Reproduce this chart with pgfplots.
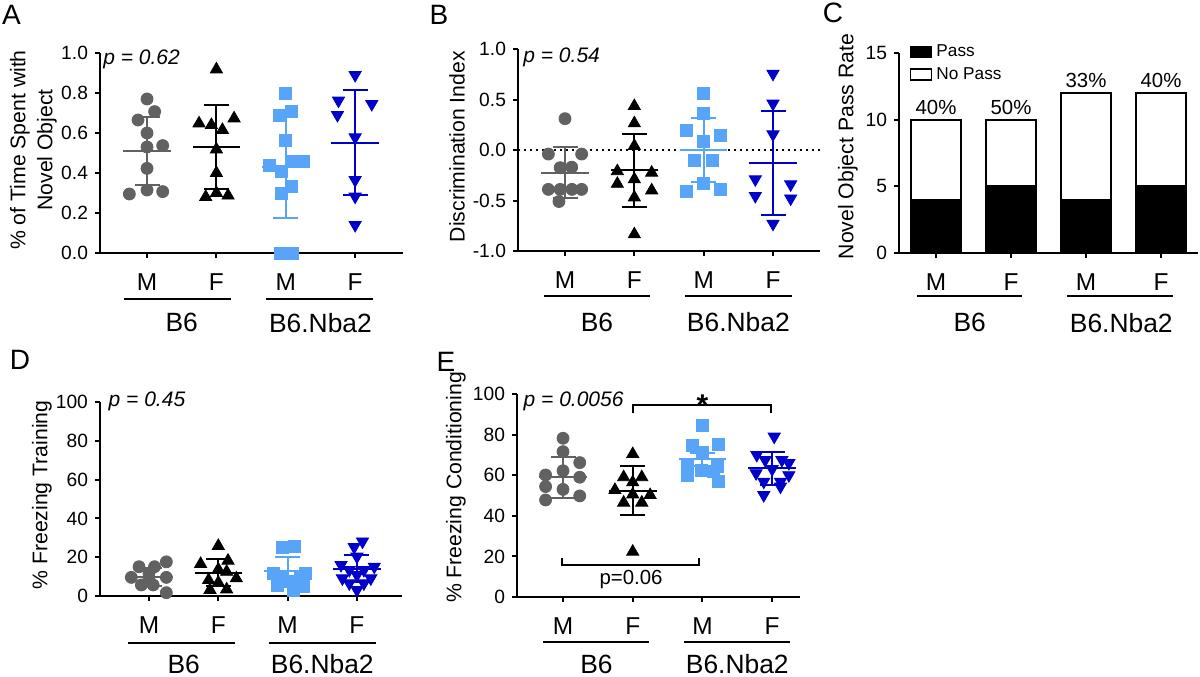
\documentclass[border=0pt]{standalone}
\usepackage{fontspec}
\setmainfont{Liberation Sans}
\usepackage{pgfplots}
\pgfplotsset{compat=1.18}
\definecolor{gpgray}{RGB}{97,97,97}
\definecolor{lblue}{RGB}{88,164,248}
\definecolor{dblue}{RGB}{0,0,200}
\newcommand{\axlab}{\fontsize{10.6}{13.5}\selectfont}
\newcommand{\grplab}{\fontsize{13.2}{15}\selectfont}
\newcommand{\pval}{\fontsize{10.5}{12}\selectfont\itshape}
\tikzset{grp/.style={font=\grplab, inner sep=0pt}}
\pgfplotsset{
 gp/.style={
  scale only axis, anchor=south west,
  axis x line=bottom, axis y line=left,
  axis line style={line width=1pt, -},
  every tick/.style={line width=1pt, black},
  tick align=outside, major tick length=2.5pt,
  xtick={0,1,2,3}, xticklabels={M,F,M,F},
  xticklabel style={font=\fontsize{12.2}{14}\selectfont, anchor=base, yshift=-16pt},
  yticklabel style={font=\fontsize{9.6}{11}\selectfont},
  clip=false,
 },
 circ/.style={only marks, mark=*, mark size=3pt, color=#1, mark options={solid, fill=#1, draw=#1, line width=0.4pt}},
 tri/.style={only marks, mark=triangle*, mark size=3.5pt, color=#1, mark options={solid, fill=#1, draw=#1, line width=0.4pt}},
 itri/.style={only marks, mark=triangle*, mark size=3.5pt, color=#1, mark options={solid, rotate=180, fill=#1, draw=#1, line width=0.4pt}},
 sq/.style={only marks, mark=square*, mark size=3pt, color=#1, mark options={solid, fill=#1, draw=#1, line width=0.4pt}},
 mstyle/.style={only marks, color=#1, mark=-, mark size=11.9pt, mark options={line width=1pt, solid},
  error bars/y dir=both, error bars/y explicit,
  error bars/error bar style={line width=1pt, solid, color=#1},
  error bars/error mark options={line width=1pt, mark size=6.25pt, rotate=90, color=#1}},
}
\begin{document}
\begin{tikzpicture}
\path[use as bounding box] (0,0) rectangle (600pt,338pt);

% ---------------- Panel A
\begin{axis}[gp, at={(50pt,211.5pt)}, width=151.5pt, height=100pt,
  xmin=-0.678, xmax=3.69, ymin=0, ymax=1,
  ytick={0,0.2,0.4,0.6,0.8,1.0}, yticklabels={0.0,0.2,0.4,0.6,0.8,1.0}]
\addplot[circ=gpgray] coordinates {(0,0.77) (0.11,0.707) (-0.13,0.665) (0,0.60) (0,0.53) (0.226,0.537) (0,0.423) (-0.255,0.295) (0,0.315) (0.226,0.307)};
\addplot[tri=black] coordinates {(1,0.918) (0.75,0.648) (0.928,0.64) (1.087,0.615) (1.255,0.673) (1,0.518) (1,0.40) (0.846,0.28) (1,0.30) (1.168,0.287)};
\addplot[sq=lblue] coordinates {(2,0.798) (2.082,0.707) (1.913,0.69) (2,0.562) (1.76,0.44) (1.937,0.41) (2.096,0.457) (2.25,0.457) (2.08,0.335) (1.93,0.298) (1.923,0.0) (2.096,0.0)};
\addplot[itri=dblue] coordinates {(3,0.89) (2.76,0.762) (3.24,0.745) (2.745,0.69) (3,0.578) (3,0.365) (3,0.282) (3,0.14)};
\addplot[mstyle=gpgray] coordinates {(0,0.51) +- (0,0.17)};
\addplot[mstyle=black] coordinates {(1,0.53) +- (0,0.21)};
\addplot[mstyle=lblue] coordinates {(2,0.43) +- (0,0.255)};
\addplot[mstyle=dblue] coordinates {(3,0.552) +- (0,0.264)};
\node[font=\pval, anchor=base west, inner sep=0pt] at (axis cs:-0.635,0.94) {p = 0.62};
\draw[line width=1pt] ([yshift=-23pt]axis cs:-0.33,0) -- ([yshift=-23pt]axis cs:1.21,0);
\draw[line width=1pt] ([yshift=-23pt]axis cs:1.71,0) -- ([yshift=-23pt]axis cs:3.26,0);
\node[grp] at ([yshift=-34.8pt]axis cs:0.5,0) {B6};
\node[grp] at ([yshift=-34.8pt]axis cs:2.5,0) {B6.Nba2};
\end{axis}

% ---------------- Panel B
\begin{axis}[gp, at={(259pt,212.5pt)}, width=151pt, height=101pt,
  xmin=-0.678, xmax=3.678, ymin=-1, ymax=1,
  ytick={-1,-0.5,0,0.5,1}, yticklabels={-1.0,-0.5,0.0,0.5,1.0}]
\draw[line width=1pt, dash pattern=on 1pt off 2pt] (axis cs:-0.678,0) -- (axis cs:3.678,0);
\addplot[circ=gpgray] coordinates {(0,0.31) (-0.24,-0.04) (0.24,-0.04) (-0.07,-0.175) (0.096,-0.17) (-0.24,-0.39) (-0.07,-0.39) (0.1,-0.39) (0.24,-0.39) (-0.087,-0.51)};
\addplot[tri=black] coordinates {(1,0.435) (1,0.264) (1,0.04) (0.755,-0.21) (1.25,-0.225) (0.755,-0.335) (1.25,-0.40) (1,-0.29) (1,-0.47) (1,-0.835)};
\addplot[sq=lblue] coordinates {(2,0.558) (2,0.36) (1.75,0.195) (2.24,0.14) (2,0.09) (1.87,-0.10) (2.125,-0.10) (2,-0.333) (1.75,-0.406) (2.24,-0.39)};
\addplot[itri=dblue] coordinates {(3,0.755) (3,0.46) (3,0.155) (2.745,-0.29) (2.745,-0.455) (3.255,-0.34) (3.255,-0.48) (3,-0.73)};
\addplot[mstyle=gpgray] coordinates {(0,-0.224) +- (0,0.25)};
\addplot[mstyle=black] coordinates {(1,-0.20) +- (0,0.363)};
\addplot[mstyle=lblue] coordinates {(2,0.0) +- (0,0.32)};
\addplot[mstyle=dblue] coordinates {(3,-0.125) +- (0,0.515)};
\node[font=\pval, anchor=base west, inner sep=0pt] at (axis cs:-0.606,0.864) {p = 0.54};
\draw[line width=1pt] ([yshift=-22.5pt]axis cs:-0.30,-1) -- ([yshift=-22.5pt]axis cs:1.23,-1);
\draw[line width=1pt] ([yshift=-22.5pt]axis cs:1.73,-1) -- ([yshift=-22.5pt]axis cs:3.27,-1);
\node[grp] at ([yshift=-35.5pt]axis cs:0.46,-1) {B6};
\node[grp] at ([yshift=-35.5pt]axis cs:2.5,-1) {B6.Nba2};
\end{axis}

% ---------------- Panel C
\begin{axis}[gp, at={(449.5pt,211.5pt)}, width=149.5pt, height=100pt,
  xmin=-0.493, xmax=3.493, ymin=0, ymax=15,
  ytick={0,5,10,15}, yticklabels={0,5,10,15},
  ybar stacked, bar width=25pt,
  legend style={at={(0.035,1.065)}, anchor=north west, draw=none, fill=none,
    font=\fontsize{8.6}{10}\selectfont, row sep=0pt, inner sep=0pt,
    /tikz/every even column/.append style={column sep=8pt}},
  legend cell align=left]
\addplot[fill=black, draw=black, line width=1pt,
  legend image code/.code={\draw[fill=black, draw=black, line width=0.8pt] (0pt,-2.75pt) rectangle (10.5pt,2.75pt);}]
  coordinates {(0,4) (1,5) (2,4) (3,5)};
\addlegendentry{Pass}
\addplot[fill=white, draw=black, line width=1pt,
  legend image code/.code={\draw[fill=white, draw=black, line width=0.8pt] (0pt,-2.75pt) rectangle (10.5pt,2.75pt);}]
  coordinates {(0,6) (1,5) (2,8) (3,7)};
\addlegendentry{No Pass}
\node[font=\fontsize{10.2}{12}\selectfont] at (axis cs:0,10.9) {40\%};
\node[font=\fontsize{10.2}{12}\selectfont] at (axis cs:1,10.9) {50\%};
\node[font=\fontsize{10.2}{12}\selectfont] at (axis cs:2,12.95) {33\%};
\node[font=\fontsize{10.2}{12}\selectfont] at (axis cs:3,12.95) {40\%};
\draw[line width=1pt] ([yshift=-21.5pt]axis cs:-0.25,0) -- ([yshift=-21.5pt]axis cs:1.15,0);
\draw[line width=1pt] ([yshift=-21.5pt]axis cs:1.75,0) -- ([yshift=-21.5pt]axis cs:3.16,0);
\node[grp] at ([yshift=-34.8pt]axis cs:0.45,0) {B6};
\node[grp] at ([yshift=-34.8pt]axis cs:2.47,0) {B6.Nba2};
\end{axis}

% ---------------- Panel D
\begin{axis}[gp, at={(50pt,40pt)}, width=151pt, height=97pt,
  xmin=-0.707, xmax=3.65, ymin=0, ymax=100,
  ytick={0,20,40,60,80,100}, yticklabels={0,20,40,60,80,100}]
\addplot[circ=gpgray] coordinates {(-0.144,15.1) (0.25,17.6) (0.08,15.1) (-0.255,9.6) (0,11.7) (0.25,9.6) (-0.11,5.7) (0.06,5.7) (0.25,1.7) (0,8.3)};
\addplot[tri=black] coordinates {(1,25.8) (0.745,16.5) (1.14,18.2) (1,13.7) (1.12,12.5) (1.26,9.1) (0.86,8.2) (1,6.9) (0.88,3.1) (1.12,3.4)};
\addplot[sq=lblue] coordinates {(1.93,25.0) (2.1,25.8) (1.8,11.7) (2.25,11.7) (1.92,9.1) (2.18,9.9) (1.85,5.7) (2.23,4.8) (2.09,3.1) (2,7.4)};
\addplot[itri=dblue] coordinates {(3.08,28.1) (2.96,25.3) (3,20.3) (2.77,16.0) (3.25,15.1) (2.89,13.4) (3.1,13.4) (2.79,9.1) (3.2,9.1) (3,10.8) (2.89,6.5) (3.1,6.5) (3,3.1)};
\addplot[mstyle=gpgray] coordinates {(0,9.6) +- (0,4.7)};
\addplot[mstyle=black] coordinates {(1,12) +- (0,7)};
\addplot[mstyle=lblue] coordinates {(2,13) +- (0,7)};
\addplot[mstyle=dblue] coordinates {(3,14) +- (0,7)};
\node[font=\pval, anchor=base west, inner sep=0pt] at (axis cs:-0.587,97.6) {p = 0.45};
\draw[line width=1pt] ([yshift=-23.5pt]axis cs:-0.30,0) -- ([yshift=-23.5pt]axis cs:1.24,0);
\draw[line width=1pt] ([yshift=-23.5pt]axis cs:1.73,0) -- ([yshift=-23.5pt]axis cs:3.28,0);
\node[grp] at ([yshift=-34pt]axis cs:0.5,0) {B6};
\node[grp] at ([yshift=-34pt]axis cs:2.5,0) {B6.Nba2};
\end{axis}

% ---------------- Panel E
\begin{axis}[gp, at={(258.5pt,39.5pt)}, width=141.5pt, height=101.5pt,
  xmin=-0.66, xmax=3.40, ymin=0, ymax=100,
  ytick={0,20,40,60,80,100}, yticklabels={0,20,40,60,80,100}]
\addplot[circ=gpgray] coordinates {(0,78.2) (0,71.6) (0.24,66.2) (-0.25,60.1) (0,62.2) (0.24,59.0) (-0.25,54.4) (0,53.0) (-0.25,47.8) (0.24,49.8)};
\addplot[tri=black] coordinates {(1,70.4) (0.87,59) (1.13,59) (1,56.5) (0.745,52.7) (1.25,50.2) (1,50.5) (0.87,46.5) (1.13,46.5) (1,22.3)};
\addplot[sq=lblue] coordinates {(2,84.7) (1.85,74.9) (2.23,75.4) (2,71) (1.78,65) (2.22,64.2) (1.78,60) (1.98,62.6) (2.16,61.7) (2.23,56.8)};
\addplot[itri=dblue] coordinates {(3.03,79) (2.78,70) (2.9,67.5) (3.14,67.5) (3.24,66) (3,63) (2.77,61) (3.24,60) (2.88,56.8) (3.12,56.8) (3.12,54.4) (2.88,50.2)};
\addplot[mstyle=gpgray] coordinates {(0,59) +- (0,10.1)};
\addplot[mstyle=black] coordinates {(1,52.4) +- (0,12)};
\addplot[mstyle=lblue] coordinates {(2,67.8) +- (0,3.3)};
\addplot[mstyle=dblue] coordinates {(3,63.4) +- (0,8)};
\draw[line width=1pt] (axis cs:1,90.5) -- (axis cs:1,94.6) -- (axis cs:2.99,94.6) -- (axis cs:2.99,90.5);
\node[font=\fontsize{15}{16}\selectfont\bfseries, anchor=north, inner sep=0pt] at (axis cs:2,100) {*};
\draw[line width=1pt] (axis cs:-0.014,19.2) -- (axis cs:-0.014,15.8) -- (axis cs:1.95,15.8) -- (axis cs:1.95,19.2);
\node[font=\fontsize{10.2}{12}\selectfont, anchor=base, inner sep=0pt] at (axis cs:0.976,6.4) {p=0.06};
\node[font=\pval, anchor=base west, inner sep=0pt] at (axis cs:-0.57,93.7) {p = 0.0056};
\draw[line width=1pt] ([yshift=-22.5pt]axis cs:-0.28,0) -- ([yshift=-22.5pt]axis cs:1.24,0);
\draw[line width=1pt] ([yshift=-22.5pt]axis cs:1.74,0) -- ([yshift=-22.5pt]axis cs:3.26,0);
\node[grp] at ([yshift=-33.5pt]axis cs:0.48,0) {B6};
\node[grp] at ([yshift=-33.5pt]axis cs:2.5,0) {B6.Nba2};
\end{axis}

% ---------------- axis titles and panel letters
\node[rotate=90, align=center, font=\axlab] at (16.75pt,263pt) {\% of Time Spent with\\Novel Object};
\node[rotate=90, font=\axlab] at (228.5pt,264.7pt) {Discrimination Index};
\node[rotate=90, font=\axlab] at (424pt,264.7pt) {Novel Object Pass Rate};
\node[rotate=90, font=\axlab] at (21pt,90.5pt) {\% Freezing Training};
\node[rotate=90, font=\axlab] at (228pt,94.25pt) {\% Freezing Conditioning};
\node[font=\fontsize{14}{16}\selectfont] at (5.75pt,330.5pt) {A};
\node[font=\fontsize{14}{16}\selectfont] at (219.5pt,330.5pt) {B};
\node[font=\fontsize{14}{16}\selectfont] at (416.5pt,331.75pt) {C};
\node[font=\fontsize{14}{16}\selectfont] at (10pt,158pt) {D};
\node[font=\fontsize{14}{16}\selectfont] at (223pt,157.25pt) {E};
\end{tikzpicture}
\end{document}
